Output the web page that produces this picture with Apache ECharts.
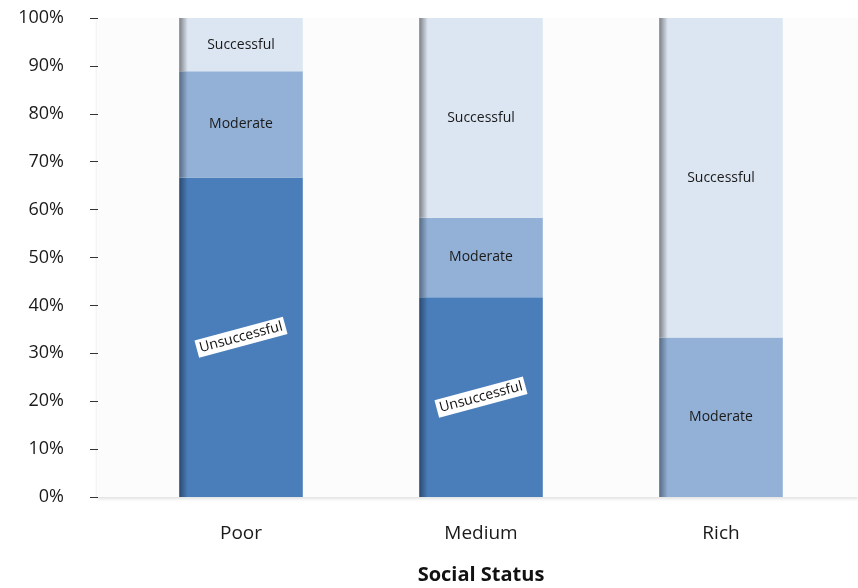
<!DOCTYPE html>
<html><head><meta charset="utf-8">
<script src="https://cdn.jsdelivr.net/npm/echarts@6/dist/echarts.min.js"></script>
<style>html,body{margin:0;padding:0;background:#fff}#c{width:858px;height:588px}</style>
</head><body><div id="c"></div>
<script>
const categories = ['Poor', 'Medium', 'Rich'];
const unsuccessful = [66.7, 41.7, 0];
const moderate = [22.2, 16.6, 33.3];
const successful = [11.1, 41.7, 66.7];
const seriesNames = ['Unsuccessful', 'Moderate', 'Successful'];
const yTicks = [0, 10, 20, 30, 40, 50, 60, 70, 80, 90, 100];

const FONT = '"Open Sans", "Noto Sans", sans-serif';
function grad(base, dark) {
  return new echarts.graphic.LinearGradient(0, 0, 1, 0, [
    {offset: 0, color: dark},
    {offset: 0.07, color: base},
    {offset: 1, color: base}
  ]);
}
function items(arr) {
  return arr.map(v => v > 0 ? v : {value: v, label: {show: false}});
}
const chart = echarts.init(document.getElementById('c'), null, {renderer: 'canvas'});
const labelBase = {show: true, position: 'inside', color: '#1a1a1a', fontFamily: FONT, fontSize: 14};
chart.setOption({
  animation: false,
  graphic: [{
    type: 'rect', z: -10, silent: true,
    shape: {x: 97, y: 18, width: 761, height: 479},
    style: {fill: '#fcfcfc', shadowBlur: 3, shadowOffsetY: 2, shadowColor: 'rgba(0,0,0,0.12)'}
  }],
  grid: {left: 121, right: 17, top: 18, bottom: 91, containLabel: false, outerBoundsMode: 'none'},
  xAxis: {
    type: 'category', data: categories,
    axisLine: {show: false}, axisTick: {show: false},
    axisLabel: {color: '#1a1a1a', fontFamily: FONT, fontSize: 19, margin: 27},
    name: 'Social Status', nameLocation: 'middle', nameGap: 68,
    nameTextStyle: {color: '#111', fontFamily: FONT, fontSize: 20, fontWeight: 'bold'}
  },
  yAxis: {
    type: 'value', min: yTicks[0], max: yTicks[yTicks.length - 1], interval: 10,
    offset: 23,
    splitLine: {show: false},
    axisLine: {show: false},
    axisTick: {show: true, length: 8, lineStyle: {color: '#333', width: 1}},
    axisLabel: {color: '#1a1a1a', fontFamily: FONT, fontSize: 18, margin: 34, formatter: v => v + '%'}
  },
  series: [
    {name: seriesNames[0], type: 'bar', stack: 's', barWidth: '51.5%', data: items(unsuccessful),
     itemStyle: {color: grad('#4a7ebb', '#2b4a6e')},
     label: Object.assign({}, labelBase, {rotate: 15, backgroundColor: '#fff', padding: [2, 3], color: '#111',
       formatter: () => seriesNames[0]})},
    {name: seriesNames[1], type: 'bar', stack: 's', data: items(moderate),
     itemStyle: {color: grad('#93b1d6', '#566a82')},
     label: Object.assign({}, labelBase, {formatter: () => seriesNames[1]})},
    {name: seriesNames[2], type: 'bar', stack: 's', data: items(successful),
     itemStyle: {color: grad('#dce6f2', '#7c7f84')},
     label: Object.assign({}, labelBase, {formatter: () => seriesNames[2]})}
  ]
});
</script></body></html>
